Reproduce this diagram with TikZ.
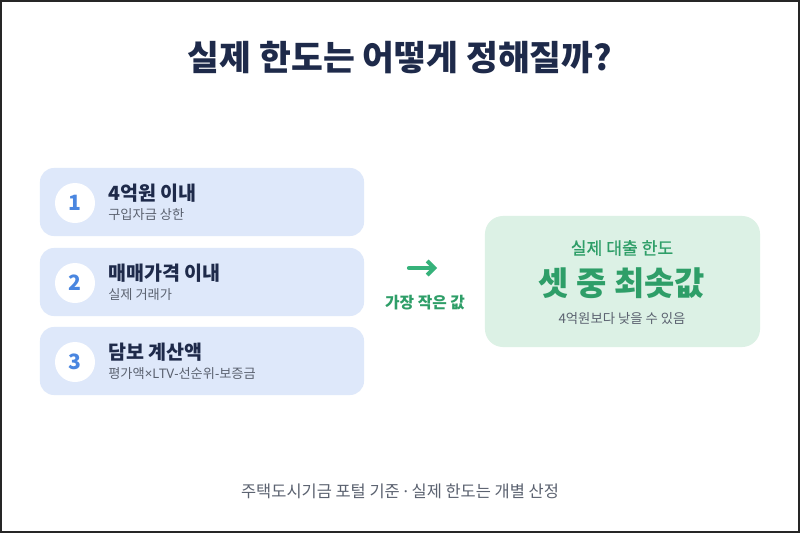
\documentclass[tikz,border=0pt]{standalone}
\usepackage{fontspec}
\setmainfont{Noto Sans CJK KR}
\newfontfamily\krmed{Noto Sans CJK KR}[FakeBold=1.0]
\newfontfamily\latn{Noto Sans}
\usetikzlibrary{positioning,arrows.meta}
\definecolor{minenavy}{HTML}{1E2A4A}
\definecolor{mineblue}{HTML}{4A86E0}
\definecolor{mineboxblue}{HTML}{DEE8FA}
\definecolor{minegreen}{HTML}{2E9E68}
\definecolor{minearrow}{HTML}{36B27A}
\definecolor{mineboxgreen}{HTML}{DCF1E5}
\definecolor{minegray}{HTML}{5B6270}

\begin{document}
\begin{tikzpicture}[x=0.025cm,y=-0.025cm,
            box/.style={rectangle,fill=mineboxblue,rounded corners=0.35cm,
                        minimum width=8.1cm,minimum height=1.7cm,inner sep=0pt},
            num/.style={circle,fill=white,minimum size=1cm,inner sep=0pt,
                        text=mineblue,font=\fontsize{15}{18}\selectfont\bfseries},
            head/.style={anchor=west,inner sep=0pt,text=minenavy,
                         font=\fontsize{13.9}{16}\selectfont\bfseries},
            sub/.style={anchor=west,inner sep=0pt,text=minegray,
                        font=\fontsize{9.4}{11}\selectfont},
            arr/.style={-{Straight Barb[length=5pt,width=10pt,line width=2.8pt]},
                        minearrow,line width=3pt,line cap=round}]
            \useasboundingbox (0,0) rectangle (800,533);
            \fill[white] (0,0) rectangle (800,533);
            \draw[black!85,line width=1.6pt] (1,1) rectangle (799,532);
            % title
            \node[text=minenavy,font=\fontsize{24.6}{30}\selectfont\bfseries]
                       (title) at (400,58) {실제 한도는 어떻게 정해질까?};
            % three conditions
            \node[box] (c1) at (202,202) {};
            \node[box] (c2) at (202,282) {};
            \node[box] (c3) at (202,361) {};
            \node[num] (n1) at (75,203) {1};
            \node[num] (n2) at (75,283) {2};
            \node[num] (n3) at (75,362) {3};
            \node[head] (h1) at (108,193) {4억원 이내};
            \node[sub]  (s1) at (108,215) {구입자금 상한};
            \node[head] (h2) at (108,273) {매매가격 이내};
            \node[sub]  (s2) at (108,295) {실제 거래가};
            \node[head] (h3) at (108,352) {담보 계산액};
            \node[sub]  (s3) at (108,374) {평가액{\latn ×LTV-}선순위{\latn -}보증금};
            % arrow
            \coordinate (a1) at (409,268);
            \coordinate (a2) at (437,268);
            \draw[arr] (a1)--(a2);
            \node[text=minegreen,font=\fontsize{11.2}{13}\selectfont\bfseries]
                       (lbl) at (425,303) {가장 작은 값};
            % result
            \node[rectangle,fill=mineboxgreen,rounded corners=0.45cm,
                  minimum width=6.875cm,minimum height=3.275cm]
                       (res) at (622.5,281.5) {};
            \node[text=minegreen,font=\fontsize{12.2}{14}\krmed]
                       (r1) at (622,248) {실제 대출 한도};
            \node[text=minegreen,font=\fontsize{23.4}{27}\selectfont\bfseries]
                       (r2) at (622,283) {셋 중 최솟값};
            \node[text=minegray,font=\fontsize{9.5}{11}\selectfont]
                       (r3) at (622,318) {4억원보다 낮을 수 있음};
            % footer
            \node[text=minegray,font=\fontsize{11.7}{14}\selectfont]
                       (foot) at (400,491) {주택도시기금 포털 기준 {\latn ·} 실제 한도는 개별 산정};
        \end{tikzpicture}
\end{document}
